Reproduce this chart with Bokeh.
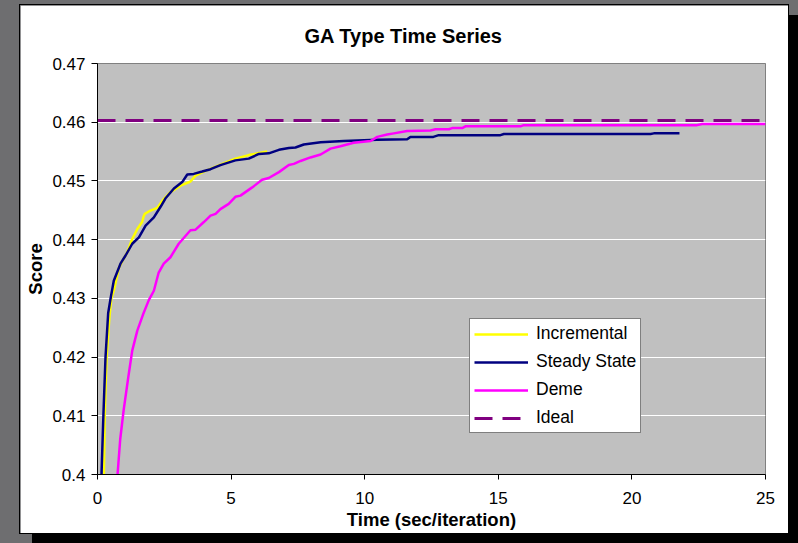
from bokeh.plotting import figure
from bokeh.models import (Range1d, FixedTicker, CustomJSTickFormatter, Legend, LegendItem, Title)
from bokeh.layouts import column
from bokeh.embed import file_html
from bokeh.resources import INLINE

# ---- data ----
incremental_x = [0.24, 0.27, 0.34, 0.45, 0.52, 0.61, 0.80, 0.95, 1.11, 1.30, 1.49, 1.67, 1.73,
                 1.77, 1.92, 2.23, 2.48, 2.73, 3.11, 3.48, 3.67, 4.04, 4.67, 5.16, 5.66, 6.35]
incremental_y = [0.400, 0.410, 0.420, 0.427, 0.430, 0.4313, 0.4352, 0.4365, 0.4378, 0.4401,
                 0.4418, 0.4430, 0.4440, 0.4444, 0.4448, 0.4454, 0.4469, 0.4481, 0.4492, 0.4499,
                 0.4509, 0.4517, 0.4529, 0.4538, 0.4544, 0.4550]

steady_x = [0.15, 0.22, 0.30, 0.40, 0.49, 0.61, 0.86, 1.05, 1.30, 1.55, 1.80, 2.11, 2.36, 2.54,
            2.86, 3.17, 3.36, 3.60, 3.92, 4.23, 4.60, 5.16, 5.66, 6.04, 6.41, 6.79, 7.16, 7.41,
            7.72, 8.35, 9.22, 10.47, 11.59, 11.71, 12.57, 12.77, 15.08, 15.21, 20.70, 20.82, 21.78]
steady_y = [0.400, 0.410, 0.420, 0.4275, 0.430, 0.4330, 0.4359, 0.4373, 0.4393, 0.4404, 0.4424,
            0.4438, 0.4456, 0.4470, 0.4487, 0.4498, 0.4511, 0.4512, 0.4516, 0.4520, 0.4527,
            0.4535, 0.4538, 0.4546, 0.4547, 0.4553, 0.4556, 0.4557, 0.4562, 0.4566, 0.4568,
            0.4570, 0.4571, 0.4575, 0.4575, 0.4578, 0.4578, 0.4580, 0.4580, 0.4581, 0.4581]

deme_x = [0.75, 0.85, 0.98, 1.15, 1.30, 1.49, 1.70, 1.92, 2.11, 2.29, 2.48, 2.73, 3.04, 3.48,
          3.67, 3.98, 4.23, 4.42, 4.60, 4.91, 5.16, 5.35, 5.79, 6.16, 6.41, 6.79, 7.16, 7.35,
          7.60, 7.97, 8.35, 8.72, 9.09, 9.59, 10.22, 10.47, 10.84, 11.09, 11.59, 12.46, 12.65,
          13.15, 13.27, 13.65, 13.77, 15.83, 15.95, 22.44, 22.63, 25.0]
deme_y = [0.400, 0.406, 0.411, 0.4165, 0.4211, 0.4245, 0.4272, 0.4297, 0.4313, 0.4344, 0.4359,
          0.4370, 0.4393, 0.4416, 0.4417, 0.4430, 0.4441, 0.4444, 0.4452, 0.4461, 0.4473,
          0.4475, 0.4489, 0.4502, 0.4505, 0.4515, 0.4527, 0.4529, 0.4534, 0.4540, 0.4545,
          0.4555, 0.4559, 0.4565, 0.4568, 0.4575, 0.4579, 0.4581, 0.4585, 0.4586, 0.4588,
          0.4588, 0.4590, 0.4590, 0.4593, 0.4593, 0.4595, 0.4595, 0.4597, 0.4597]

ideal_x = [0, 25]
ideal_y = [0.4603, 0.4603]

x_ticks = [0, 5, 10, 15, 20, 25]
y_ticks = [0.40, 0.41, 0.42, 0.43, 0.44, 0.45, 0.46, 0.47]

FONT = "Liberation Sans"

p = figure(width=768, height=528, output_backend="svg", toolbar_location=None,
           x_range=Range1d(0, 25), y_range=Range1d(0.4, 0.47),
           min_border_left=77, min_border_right=23, min_border_top=58, min_border_bottom=59)

p.background_fill_color = "#C0C0C0"
p.border_fill_color = "white"
p.outline_line_color = "#808080"
p.outline_line_width = 1

p.title = Title(text="GA Type Time Series", align="left", offset=207, standoff=34,
                text_font=FONT, text_font_size="20px", text_font_style="bold", text_color="black")

# grid
p.xgrid.grid_line_color = None
p.ygrid.grid_line_color = "white"
p.ygrid.grid_line_width = 1
p.ygrid.ticker = FixedTicker(ticks=y_ticks)

# axes
p.xaxis.ticker = FixedTicker(ticks=x_ticks)
p.yaxis.ticker = FixedTicker(ticks=y_ticks)
p.yaxis.formatter = CustomJSTickFormatter(code="return String(Math.round(tick*100)/100);")
p.xaxis.formatter = CustomJSTickFormatter(code="return String(Math.round(tick));")
for ax in (p.xaxis[0], p.yaxis[0]):
    ax.axis_line_color = "black"
    ax.major_tick_line_color = "black"
    ax.minor_tick_line_color = None
    ax.major_tick_in = 0
    ax.major_label_text_font = FONT
    ax.major_label_text_font_size = "17px"
    ax.major_label_text_color = "black"
    ax.axis_label_text_font = FONT
    ax.axis_label_text_font_size = "18.5px"
    ax.axis_label_text_font_style = "bold"
    ax.axis_label_text_color = "black"
p.xaxis.major_tick_out = 5
p.xaxis.major_label_standoff = 12
p.xaxis.axis_label = "Time (sec/iteration)"
p.xaxis.axis_label_standoff = 2
p.yaxis.major_tick_out = 6
p.yaxis.major_label_standoff = 6
p.yaxis.axis_label = "Score"
p.yaxis.axis_label_standoff = 3

r_inc = p.line(incremental_x, incremental_y, line_color="#FFFF00", line_width=2.5)
r_ss = p.line(steady_x, steady_y, line_color="#000080", line_width=2.5)
r_deme = p.line(deme_x, deme_y, line_color="#FF00FF", line_width=2.5)
r_ideal = p.line(ideal_x, ideal_y, line_color="#800080", line_width=3, line_dash="18 10")

legend = Legend(items=[
    LegendItem(label="Incremental", renderers=[r_inc]),
    LegendItem(label="Steady State", renderers=[r_ss]),
    LegendItem(label="Deme", renderers=[r_deme]),
    LegendItem(label="Ideal", renderers=[r_ideal]),
], location=(372, 41))
legend.border_line_color = "black"
legend.border_line_width = 1
legend.background_fill_color = "white"
legend.background_fill_alpha = 1
legend.label_text_font = FONT
legend.label_text_font_size = "17.5px"
legend.label_text_color = "black"
legend.glyph_width = 54
legend.glyph_height = 20
legend.label_height = 20
legend.label_standoff = 8
legend.spacing = 7
legend.padding = 4
legend.margin = 0
p.add_layout(legend, "center")

p.margin = (5, 10, 10, 20)
p.styles = {"box-shadow": "0 0 0 1px #000, 12px 10px 0 0 #000"}

layout = column(p, width=798, height=543, sizing_mode="fixed",
                styles={"background-color": "#6E6E70"})

open("out.html", "w").write(file_html(layout, INLINE))
